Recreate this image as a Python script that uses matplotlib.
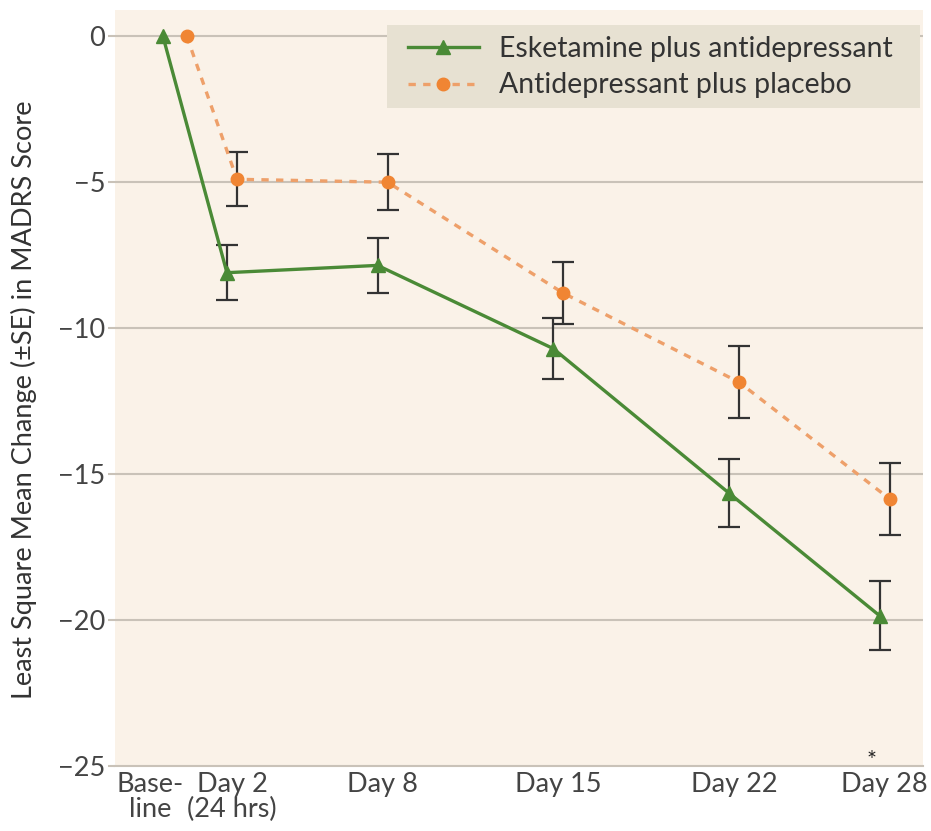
import numpy as np
import matplotlib.pyplot as plt
from matplotlib.patches import Rectangle

# study days (baseline = 0)
days = [0, 2, 8, 15, 22, 28]
day_labels = ["Base-\nline", "Day 2\n(24 hrs)", "Day 8", "Day 15", "Day 22", "Day 28"]

esk_mean = [0, -8.1, -7.85, -10.7, -15.65, -19.85]
esk_se = [0, 0.95, 0.95, 1.05, 1.17, 1.18]
pbo_mean = [0, -4.9, -5.0, -8.8, -11.85, -15.85]
pbo_se = [0, 0.92, 0.96, 1.06, 1.23, 1.23]

green = "#4a8a36"
orange = "#f08533"
dashcol = "#eea06a"
bg = "#faf2e8"
grid = "#c9c2b8"
txt = "#444444"

plt.rcParams['font.family'] = ['Lato', 'DejaVu Sans']

fig = plt.figure(figsize=(9.31, 8.31), dpi=100)
ax = fig.add_axes([0.1235, 0.0782, 0.8679, 0.9098])
ax.set_facecolor(bg)

x = np.array(days, dtype=float)
dodge = 0.2
xe = x - dodge
xp = x + dodge
# baseline points sit further apart
xe[0] = x[0] - 0.75
xp[0] = x[0] + 0.2
tick_x = x.copy()
tick_x[0] = x[0] - 1.25

for yv in [0, -5, -10, -15, -20]:
    ax.axhline(yv, color=grid, lw=1.5, zorder=1)

# error bars (baseline has none)
ax.errorbar(xe[1:], esk_mean[1:], yerr=esk_se[1:], fmt="none", ecolor="#333333",
            elinewidth=1.6, capsize=8, capthick=1.6, zorder=3)
ax.errorbar(xp[1:], pbo_mean[1:], yerr=pbo_se[1:], fmt="none", ecolor="#333333",
            elinewidth=1.6, capsize=8, capthick=1.6, zorder=3)

ax.plot(xe, esk_mean, color=green, lw=2.4, marker="^", markersize=10,
        markerfacecolor=green, markeredgecolor=green, zorder=4,
        label="Esketamine plus antidepressant")
ax.plot(xp, pbo_mean, color=dashcol, lw=2.4, linestyle=(0, (2.2, 2.2)), marker="o",
        markersize=9, markerfacecolor=orange, markeredgecolor=orange, zorder=4,
        label="Antidepressant plus placebo")

ax.text(27.5, -24.8, "*", ha="center", va="center", fontsize=17, color="#222222")

ax.set_xlim(-2.66, 29.53)
ax.set_ylim(-25, 0.9)
ax.set_yticks([0, -5, -10, -15, -20, -25])
ax.set_yticklabels(["0", "\u22125", "\u221210", "\u221215", "\u221220", "\u221225"])
ax.set_xticks(tick_x)
ax.set_xticklabels(day_labels, linespacing=1.0)

ax.tick_params(axis="y", colors=grid, labelcolor=txt, labelsize=19.5, length=5, width=1.5, pad=2)
ax.tick_params(axis="x", length=0, labelcolor=txt, labelsize=19.5, pad=4)

for s in ["top", "right", "left"]:
    ax.spines[s].set_visible(False)
ax.spines["bottom"].set_color(grid)
ax.spines["bottom"].set_linewidth(1.5)

ax.set_ylabel("Least Square Mean Change (\u00b1SE) in MADRS Score", fontsize=19.5,
              color="#333333")
ax.yaxis.set_label_coords(-0.097, 0.484)

# legend panel drawn behind a frameless legend
ax.add_patch(Rectangle((0.3366, 0.870), 0.6594, 0.110, transform=ax.transAxes,
                       facecolor="#e7e1d2", edgecolor="none", zorder=5))
leg = ax.legend(loc="upper left", bbox_to_anchor=(0.3626, 0.966), borderaxespad=0,
                fontsize=20.4, frameon=False, handlelength=2.5, borderpad=0,
                labelspacing=0.38, handletextpad=0.72)
leg.set_zorder(6)
for t in leg.get_texts():
    t.set_color("#333333")

fig.savefig("out.png", dpi=100, facecolor="white")
